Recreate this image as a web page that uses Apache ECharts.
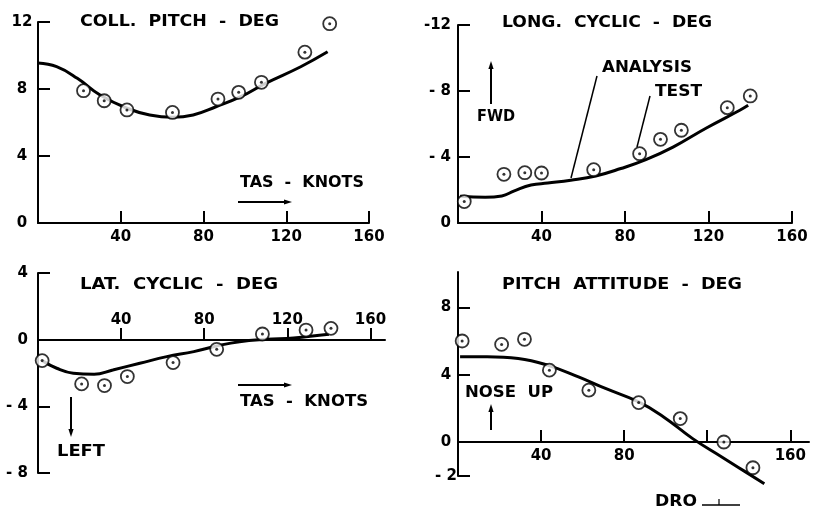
<!DOCTYPE html>
<html>
<head>
<meta charset="utf-8">
<script src="https://cdn.jsdelivr.net/npm/echarts@6/dist/echarts.min.js"></script>
<style>
  html, body { margin: 0; padding: 0; background: #fff; }
  #chart { width: 815px; height: 508px; }
</style>
</head>
<body>
<div id="chart"></div>
<script>
// Speed tick marks (knots) shared by all four panels
const speedTicks = [40, 80, 120, 160];

// Collective pitch (deg) vs true airspeed (knots)
const collTestKts = [22, 32, 43, 65, 87, 97, 108, 129, 141];
const collTestDeg = [7.9, 7.3, 6.75, 6.6, 7.4, 7.8, 8.4, 10.2, 11.9];
const collAnaKts  = [0, 9, 19, 30, 43, 54, 65, 75, 86, 98, 110, 127, 140];
const collAnaDeg  = [9.55, 9.33, 8.64, 7.64, 6.85, 6.45, 6.31, 6.45, 6.94, 7.54, 8.34, 9.33, 10.22];
const collTicks   = [0, 4, 8, 12];

// Longitudinal cyclic (deg, negative = forward)
const longTestKts = [3, 22, 32, 40, 65, 87, 97, 107, 129, 140];
const longTestDeg = [-1.3, -2.95, -3.05, -3.03, -3.23, -4.2, -5.07, -5.62, -6.99, -7.7];
const longAnaKts  = [1, 13, 21, 27, 35, 43, 54, 66, 78, 90, 103, 119, 135, 139];
const longAnaDeg  = [-1.62, -1.56, -1.64, -1.95, -2.3, -2.42, -2.59, -2.85, -3.3, -3.84, -4.6, -5.76, -6.83, -7.13];
const longTicks   = [-12, -8, -4, 0];

// Lateral cyclic (deg, negative = left)
const latTestKts = [2, 21, 32, 43, 65, 86, 108, 129, 141];
const latTestDeg = [-1.24, -2.64, -2.74, -2.2, -1.36, -0.56, 0.36, 0.6, 0.7];
const latAnaKts  = [2, 9, 17, 27, 36, 49, 62, 75, 86, 97, 110, 123, 140];
const latAnaDeg  = [-1.24, -1.7, -2.0, -2.06, -1.8, -1.4, -1.0, -0.7, -0.36, -0.1, 0.04, 0.12, 0.34];
const latTicksUpper = [4];
const latTicksLower = [0, -4, -8];

// Pitch attitude (deg, positive = nose up)
const pitchTestKts = [2, 21, 32, 44, 63, 87, 107, 128, 142];
const pitchTestDeg = [6.0, 5.8, 6.1, 4.27, 3.08, 2.34, 1.39, 0, -1.53];
const pitchAnaKts  = [1, 14, 29, 43, 58, 71, 87, 99, 113, 127, 135, 147.5];
const pitchAnaDeg  = [5.06, 5.06, 4.96, 4.57, 3.87, 3.18, 2.38, 1.49, 0.2, -0.89, -1.51, -2.48];
const pitchTicksUpper = [8, 4, 0];
const pitchTicksLower = [-2];
const pitchSpeedLabels = [40, 80, 160];

const FONT = '"DejaVu Sans", "Liberation Sans", sans-serif';
const INK = '#000';

const zip = (xs, ys) => xs.map((x, i) => [x, ys[i]]);
const negFmt = v => (v < 0 && v > -10) ? '- ' + Math.abs(v) : String(v);

const labelStyle = { color: INK, fontSize: 15, fontWeight: 'bold', fontFamily: FONT };
const axisLineStyle = { color: INK, width: 2 };

function xAxisCfg(grid, opts) {
  return Object.assign({
    gridIndex: grid, type: 'value', min: 0, max: 160,
    position: 'bottom',
    axisLine: { show: true, onZero: false, lineStyle: axisLineStyle },
    axisTick: { show: true, inside: true, length: 12, customValues: speedTicks, lineStyle: axisLineStyle },
    axisLabel: Object.assign({ customValues: speedTicks, margin: 7 }, labelStyle),
    splitLine: { show: false }
  }, opts || {});
}

function hiddenX(grid, max) {
  return { gridIndex: grid, type: 'value', min: 0, max: max, show: false, splitLine: { show: false } };
}

function yAxisCfg(grid, min, max, ticks, labels, labelOpts, extra) {
  return Object.assign({
    gridIndex: grid, type: 'value', min: min, max: max,
    axisLine: { show: true, onZero: false, lineStyle: axisLineStyle },
    axisTick: { show: true, inside: true, length: 12, customValues: ticks, lineStyle: axisLineStyle },
    axisLabel: Object.assign({ customValues: labels, formatter: negFmt }, labelStyle, labelOpts),
    splitLine: { show: false }
  }, extra || {});
}

function panelSeries(idx, anaK, anaD, testK, testD) {
  return [
    {
      type: 'line', xAxisIndex: idx, yAxisIndex: idx,
      data: zip(anaK, anaD), smooth: 0.45, showSymbol: false, clip: false,
      lineStyle: { color: INK, width: 3 }, z: 2
    },
    {
      type: 'scatter', xAxisIndex: idx, yAxisIndex: idx,
      data: zip(testK, testD), symbol: 'circle', symbolSize: 13, clip: false,
      itemStyle: { color: '#fff', borderColor: INK, borderWidth: 1.8 }, z: 3
    },
    {
      type: 'scatter', xAxisIndex: idx, yAxisIndex: idx,
      data: zip(testK, testD), symbol: 'circle', symbolSize: 3, clip: false,
      itemStyle: { color: INK }, z: 4
    }
  ];
}

// Lettering: bold text stretched horizontally to span [left, right]
const measureCtx = document.createElement('canvas').getContext('2d');
function lettering(str, left, right, cy, size) {
  const font = 'bold ' + size + 'px ' + FONT;
  measureCtx.font = font;
  const w = measureCtx.measureText(str).width;
  return {
    type: 'text', x: left, y: cy, scaleX: (right - left) / w, z: 10,
    style: { text: str, x: 0, y: 0, font: font, fill: INK,
             textAlign: 'left', textVerticalAlign: 'middle' }
  };
}

function arrow(x1, y1, x2, y2) {
  const ang = Math.atan2(y2 - y1, x2 - x1);
  const len = 8, half = 2.6;
  const bx = x2 - len * Math.cos(ang), by = y2 - len * Math.sin(ang);
  const px = -Math.sin(ang) * half, py = Math.cos(ang) * half;
  return [
    { type: 'line', z: 10, shape: { x1: x1, y1: y1, x2: bx, y2: by },
      style: { stroke: INK, lineWidth: 2 } },
    { type: 'polygon', z: 10, shape: { points: [[x2, y2], [bx + px, by + py], [bx - px, by - py]] },
      style: { fill: INK } }
  ];
}

function leader(x1, y1, x2, y2, w) {
  return { type: 'line', z: 10, shape: { x1: x1, y1: y1, x2: x2, y2: y2 },
           style: { stroke: INK, lineWidth: w || 1.5 } };
}

const graphics = [
  lettering('COLL.  PITCH  -  DEG', 80, 279, 22, 16),
  lettering('TAS  -  KNOTS', 240, 364, 183, 16),
  ...arrow(238, 202, 292, 202),

  lettering('LONG.  CYCLIC  -  DEG', 502, 712, 23, 16),
  lettering('ANALYSIS', 602, 692, 68, 16),
  lettering('TEST', 655, 702, 92, 16),
  lettering('FWD', 477, 515, 117, 16),
  ...arrow(491, 104, 491, 61),
  leader(597, 76, 571, 178),
  leader(650, 96, 637, 147),

  lettering('LAT.  CYCLIC  -  DEG', 80, 278, 285, 16),
  lettering('TAS  -  KNOTS', 240, 368, 402, 16),
  ...arrow(238, 385, 292, 385),
  lettering('LEFT', 57, 105, 452, 16),
  ...arrow(71, 397, 71, 437),

  lettering('PITCH  ATTITUDE  -  DEG', 502, 742, 285, 16),
  lettering('NOSE  UP', 465, 553, 393, 16),
  ...arrow(491, 430, 491, 404),
  lettering('DRO', 655, 697, 502, 16),
  leader(702, 505, 740, 505, 1.5),
  leader(719, 499, 719, 505, 1.2)
];

const option = {
  animation: false,
  backgroundColor: '#fff',
  grid: [
    { left: 38,  top: 22,  width: 331, height: 201 },  // 0 collective
    { left: 458, top: 25,  width: 334, height: 198 },  // 1 longitudinal
    { left: 38,  top: 340, width: 347, height: 133 },  // 2 lateral, below zero
    { left: 38,  top: 273, width: 347, height: 67 },   // 3 lateral, above zero
    { left: 458, top: 272, width: 351, height: 170 },  // 4 pitch, above zero
    { left: 458, top: 442, width: 351, height: 34 }    // 5 pitch, below zero
  ],
  xAxis: [
    xAxisCfg(0),
    xAxisCfg(1),
    xAxisCfg(2, {
      max: 167, position: 'top',
      axisTick: { show: true, inside: false, length: 12, customValues: speedTicks, lineStyle: axisLineStyle },
      axisLabel: Object.assign({ customValues: speedTicks, margin: 12 }, labelStyle)
    }),
    hiddenX(3, 167),
    xAxisCfg(4, {
      max: 169,
      axisLabel: Object.assign({ customValues: pitchSpeedLabels, margin: 7 }, labelStyle)
    }),
    hiddenX(5, 169)
  ],
  yAxis: [
    yAxisCfg(0, 0, 12, [4, 8, 12], collTicks, { align: 'center', margin: 16 }),
    yAxisCfg(1, -12, 0, [-12, -8, -4], longTicks, { margin: 7 }, { inverse: true }),
    yAxisCfg(2, -8, 0, [-4, -8], latTicksLower, { margin: 10 }),
    yAxisCfg(3, 0, 4, [4], latTicksUpper, { margin: 10 }),
    yAxisCfg(4, 0, 10.1, [8, 4], pitchTicksUpper, { align: 'center', margin: 12 }),
    yAxisCfg(5, -2, 0, [-2], pitchTicksLower, { align: 'center', margin: 12 })
  ],
  series: [
    ...panelSeries(0, collAnaKts, collAnaDeg, collTestKts, collTestDeg),
    ...panelSeries(1, longAnaKts, longAnaDeg, longTestKts, longTestDeg),
    ...panelSeries(2, latAnaKts, latAnaDeg, latTestKts, latTestDeg),
    ...panelSeries(4, pitchAnaKts, pitchAnaDeg, pitchTestKts, pitchTestDeg)
  ],
  graphic: graphics
};

const chart = echarts.init(document.getElementById('chart'), null, { renderer: 'canvas' });
chart.setOption(option);
</script>
</body>
</html>
